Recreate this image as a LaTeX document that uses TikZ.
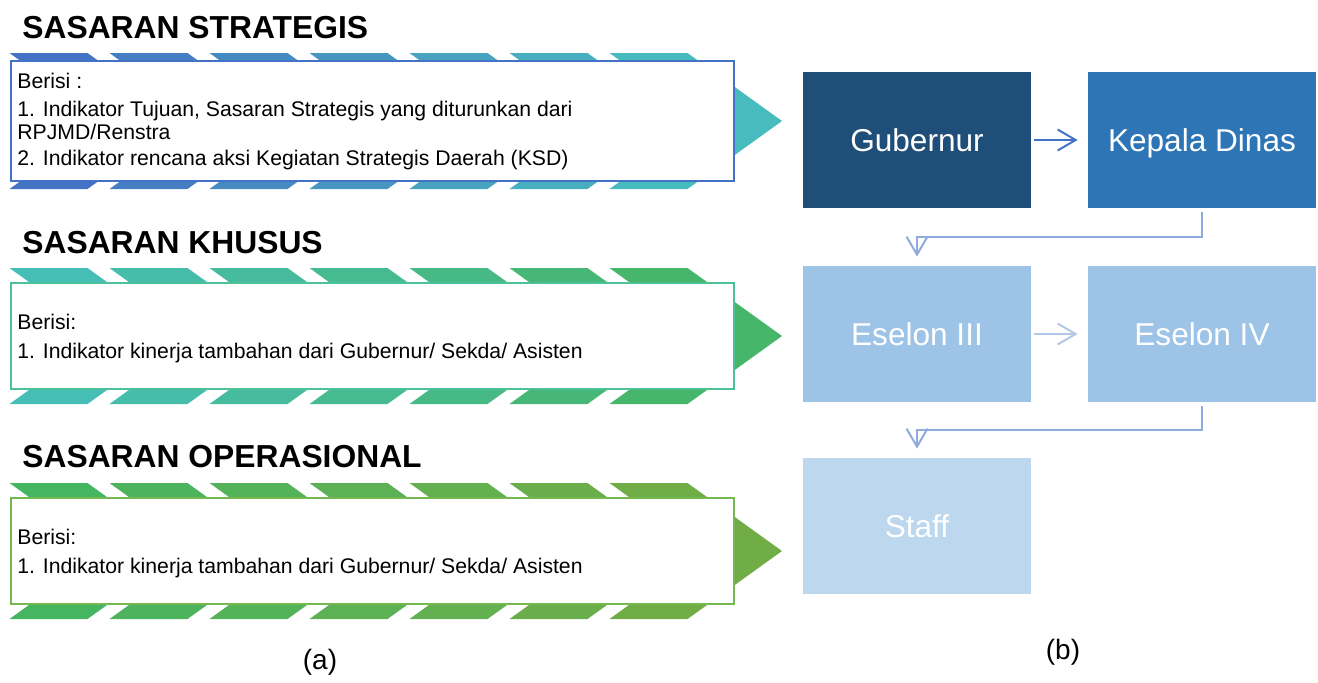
\documentclass[tikz,border=0pt]{standalone}
\usepackage{fontspec}
\setmainfont{Liberation Sans}
\usetikzlibrary{arrows.meta}

\definecolor{stratL}{RGB}{68,114,196}
\definecolor{stratR}{RGB}{72,187,190}
\definecolor{stratB}{RGB}{68,114,196}
\definecolor{khusL}{RGB}{70,190,184}
\definecolor{khusR}{RGB}{70,182,106}
\definecolor{khusB}{RGB}{76,192,150}
\definecolor{operL}{RGB}{70,181,98}
\definecolor{operR}{RGB}{112,173,71}
\definecolor{operB}{RGB}{118,184,80}
\definecolor{gubFill}{RGB}{31,78,121}
\definecolor{kadisFill}{RGB}{46,117,182}
\definecolor{eselonFill}{RGB}{157,195,230}
\definecolor{staffFill}{RGB}{189,215,238}
\definecolor{arrowA}{RGB}{68,114,196}
\definecolor{arrowB}{RGB}{180,199,231}
\definecolor{elbowC}{RGB}{143,170,220}

\begin{document}
\begin{tikzpicture}[x=0.5pt,y=-0.5pt,
    title/.style={anchor=west, inner sep=0pt, font=\bfseries\fontsize{15.9}{18}\selectfont},
    itemtext/.style={anchor=base west, inner sep=0pt, font=\fontsize{10.6}{12}\selectfont},
    flow/.style={line width=1pt, -{Straight Barb[length=9pt,width=10.5pt]}}]

      \useasboundingbox (0,0) rectangle (1318,682);

      % chevron rows behind the boxes
      \foreach \yt/\cl/\cr in {53/stratL/stratR, 268/khusL/khusR, 483/operL/operR}{
        \foreach \i in {0,...,6}{
          \pgfmathtruncatemacro\pct{100-\i*100/6}
          \fill[fill=\cl!\pct!\cr] ({9.5+100*\i},\yt) -- ++(78,0) -- ++(94.5,68)
            -- ++(-94.5,68) -- ++(-78,0) -- ++(94.5,-68) -- cycle;
        }
      }

      \draw[stratB, line width=1pt, fill=white] (11,61)  rectangle (734,181);
      \draw[khusB,  line width=1pt, fill=white] (11,283) rectangle (734,389);
      \draw[operB,  line width=1pt, fill=white] (11,498) rectangle (734,604);

      \node[title] (t1) at (22,28)  {SASARAN STRATEGIS};
      \node[title] (t2) at (22,243) {SASARAN KHUSUS};
      \node[title] (t3) at (22,457) {SASARAN OPERASIONAL};

      \node[itemtext] (s1a) at (17,88)  {Berisi :};
      \node[itemtext] (s1b) at (17,116) {1. Indikator Tujuan, Sasaran Strategis yang diturunkan dari};
      \node[itemtext] (s1c) at (17,139) {RPJMD/Renstra};
      \node[itemtext] (s1d) at (17,165) {2. Indikator rencana aksi Kegiatan Strategis Daerah (KSD)};
      \node[itemtext] (s2a) at (17,329) {Berisi:};
      \node[itemtext] (s2b) at (17,358) {1. Indikator kinerja tambahan dari Gubernur/ Sekda/ Asisten};
      \node[itemtext] (s3a) at (17,544) {Berisi:};
      \node[itemtext] (s3b) at (17,573) {1. Indikator kinerja tambahan dari Gubernur/ Sekda/ Asisten};

      \begin{scope}[every node/.style={rectangle, minimum width=114pt, minimum height=68pt,
          inner sep=0pt, text height=11.5pt, text depth=0pt, text=white,
          font=\fontsize{15.8}{18}\selectfont}]
        \node[fill=gubFill]    (gub)   at (917,140)  {Gubernur};
        \node[fill=kadisFill]  (kadis) at (1202,140) {Kepala Dinas};
        \node[fill=eselonFill] (es3)   at (917,334)  {Eselon III};
        \node[fill=eselonFill] (es4)   at (1202,334) {Eselon IV};
        \node[fill=staffFill]  (staff) at (917,526)  {Staff};
      \end{scope}

      \draw[flow, arrowA, shorten <=1.5pt, shorten >=5pt] (gub) -- (kadis);
      \draw[flow, arrowB, shorten <=1.5pt, shorten >=5pt] (es3) -- (es4);
      \draw[flow, elbowC, shorten <=2pt, shorten >=4.5pt] (kadis.south) -- ++(0,29) -| (es3.north);
      \draw[flow, elbowC, shorten <=2pt, shorten >=4.5pt] (es4.south) -- ++(0,28) -| (staff.north);

      \node[font=\fontsize{14}{16}\selectfont] (capA) at (320,662)  {(a)};
      \node[font=\fontsize{14}{16}\selectfont] (capB) at (1063,652) {(b)};

    \end{tikzpicture}
\end{document}
